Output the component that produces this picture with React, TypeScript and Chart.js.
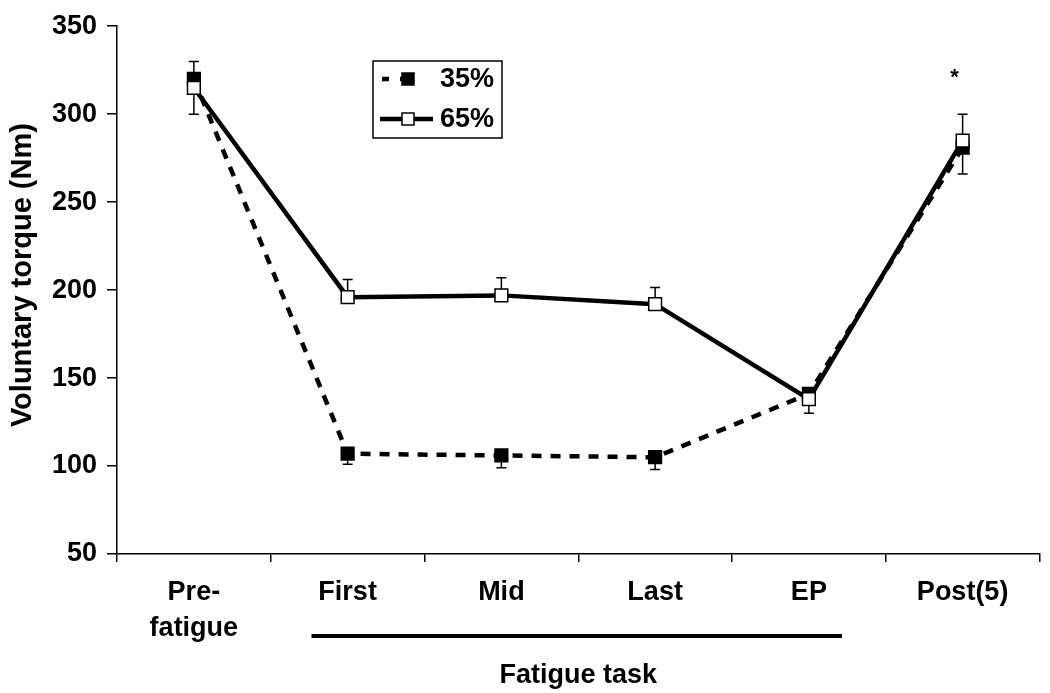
import React, { useEffect, useRef } from "react";
import { Chart, registerables } from "chart.js";

Chart.register(...registerables);

// ---- data ----
const categories: (string | string[])[] = [["Pre-", "fatigue"], "First", "Mid", "Last", "EP", "Post(5)"];
const series35 = [320, 107, 106, 105, 141, 281];
const series35ErrDown = [20, 6, 7, 7, 11, 15];
const series65 = [315, 196, 197, 192, 138, 285];
const series65ErrUp = [15, 10, 10, 9.5, 3, 15];
const seriesNames = ["35%", "65%"];
const yMin = 50;
const yMax = 350;
const yStep = 50;
const yTitle = "Voluntary torque (Nm)";
const xTitle = "Fatigue task";
const fatigueTaskRange = [1, 4];
const significance = [{ index: 5, text: "*" }];

const FONT = "'Liberation Sans', Arial, Helvetica, sans-serif";

const errorBarPlugin = {
  id: "errorBars",
  beforeDatasetsDraw(chart: any) {
    const ctx = chart.ctx;
    const y = chart.scales.y;
    chart.data.datasets.forEach((ds: any, di: number) => {
      const meta = chart.getDatasetMeta(di);
      ds.data.forEach((v: number, i: number) => {
        const pt = meta.data[i];
        if (!pt) return;
        const x = pt.x;
        const y0 = y.getPixelForValue(v);
        const up = ds.errUp ? ds.errUp[i] : 0;
        const dn = ds.errDown ? ds.errDown[i] : 0;
        ctx.save();
        ctx.strokeStyle = "#000";
        ctx.lineWidth = 1.5;
        const ends: number[] = [];
        if (up) ends.push(y.getPixelForValue(v + up));
        if (dn) ends.push(y.getPixelForValue(v - dn));
        ends.forEach((ye) => {
          ctx.beginPath();
          ctx.moveTo(x, y0);
          ctx.lineTo(x, ye);
          ctx.moveTo(x - 5, ye);
          ctx.lineTo(x + 5, ye);
          ctx.stroke();
        });
        ctx.restore();
      });
    });
  },
};

const extrasPlugin = {
  id: "extras",
  afterDraw(chart: any) {
    const ctx = chart.ctx;
    const xs = chart.scales.x;
    const ys = chart.scales.y;
    const cw = xs.getPixelForValue(1) - xs.getPixelForValue(0);
    // fatigue task bracket line
    ctx.save();
    ctx.strokeStyle = "#000";
    ctx.lineWidth = 4;
    ctx.beginPath();
    const lx0 = xs.getPixelForValue(fatigueTaskRange[0]) - cw * 0.235;
    const lx1 = xs.getPixelForValue(fatigueTaskRange[1]) + cw * 0.215;
    ctx.moveTo(lx0, 636);
    ctx.lineTo(lx1, 636);
    ctx.stroke();
    ctx.restore();

    // y title
    ctx.save();
    ctx.fillStyle = "#000";
    ctx.font = `bold 29px ${FONT}`;
    ctx.textAlign = "center";
    ctx.textBaseline = "middle";
    ctx.translate(23, (chart.chartArea.top + chart.chartArea.bottom) / 2 - 15);
    ctx.rotate(-Math.PI / 2);
    ctx.fillText(yTitle, 0, 0);
    ctx.restore();

    // significance
    significance.forEach((s) => {
      const x = xs.getPixelForValue(s.index) - 8;
      const top = ys.getPixelForValue(series65[s.index] + series65ErrUp[s.index]);
      ctx.save();
      ctx.fillStyle = "#000";
      ctx.font = `bold 22px ${FONT}`;
      ctx.textAlign = "center";
      ctx.textBaseline = "alphabetic";
      ctx.fillText(s.text, x, top - 30);
      ctx.restore();
    });

    // legend
    ctx.save();
    ctx.strokeStyle = "#000";
    ctx.lineWidth = 1.5;
    ctx.strokeRect(373, 61, 129, 77);
    const rows = [79, 119];
    chart.data.datasets.forEach((ds: any, di: number) => {
      const ry = rows[di];
      ctx.save();
      ctx.strokeStyle = "#000";
      ctx.lineWidth = 4.5;
      if (di === 0) {
        ctx.setLineDash([7, 11]);
        ctx.beginPath();
        ctx.moveTo(382, ry);
        ctx.lineTo(418, ry);
        ctx.stroke();
      } else {
        ctx.beginPath();
        ctx.moveTo(380, ry);
        ctx.lineTo(433, ry);
        ctx.stroke();
      }
      ctx.restore();
      const s = 12;
      ctx.fillStyle = ds.pointBackgroundColor;
      ctx.fillRect(408 - s / 2, ry - s / 2, s, s);
      ctx.lineWidth = 1.5;
      ctx.strokeStyle = "#000";
      ctx.strokeRect(408 - s / 2, ry - s / 2, s, s);
      ctx.fillStyle = "#000";
      ctx.font = `bold 27px ${FONT}`;
      ctx.textAlign = "left";
      ctx.textBaseline = "middle";
      ctx.fillText(ds.label, 440, ry + 1);
    });
    ctx.restore();
  },
};

export default function App() {
  const ref = useRef<HTMLCanvasElement | null>(null);
  useEffect(() => {
    if (!ref.current) return;
    const chart = new Chart(ref.current, {
      type: "line",
      data: {
        labels: categories as any,
        datasets: [
          {
            label: seriesNames[0],
            data: series35,
            errDown: series35ErrDown,
            borderColor: "#000",
            borderWidth: 4.5,
            borderDash: [10, 9],
            pointStyle: "rect",
            pointRadius: 9,
            pointHoverRadius: 9,
            pointBackgroundColor: "#000",
            pointBorderColor: "#000",
            pointBorderWidth: 1.5,
            tension: 0,
            order: 2,
          } as any,
          {
            label: seriesNames[1],
            data: series65,
            errUp: series65ErrUp,
            borderColor: "#000",
            borderWidth: 4.5,
            pointStyle: "rect",
            pointRadius: 9,
            pointHoverRadius: 9,
            pointBackgroundColor: "#fff",
            pointBorderColor: "#000",
            pointBorderWidth: 1.5,
            tension: 0,
            order: 1,
          } as any,
        ],
      },
      options: {
        animation: false,
        responsive: false,
        events: [],
        layout: { padding: { top: 24, right: 9, left: 0, bottom: 0 } },
        plugins: {
          legend: { display: false },
          tooltip: { enabled: false },
        },
        scales: {
          x: {
            type: "category",
            offset: true,
            grid: {
              display: true,
              drawOnChartArea: false,
              drawTicks: true,
              tickLength: 8,
              offset: true,
              color: "#000",
              lineWidth: 1.5,
            },
            border: { display: true, color: "#000", width: 1.5 },
            ticks: {
              color: "#000",
              padding: 13,
              maxRotation: 0,
              autoSkip: false,
              font: { family: FONT, size: 27, weight: "bold", lineHeight: 1.333 },
            },
            title: {
              display: true,
              text: xTitle,
              color: "#000",
              padding: { top: 0, bottom: 1 },
              font: { family: FONT, size: 27, weight: "bold", lineHeight: 1.2 },
            },
            afterFit(scale: any) {
              scale.height = 139;
            },
          },
          y: {
            min: yMin,
            max: yMax,
            ticks: {
              stepSize: yStep,
              color: "#000",
              padding: 10,
              font: { family: FONT, size: 27, weight: "bold" },
            },
            grid: {
              display: true,
              drawOnChartArea: false,
              drawTicks: true,
              tickLength: 10,
              color: "#000",
              lineWidth: 1.5,
            },
            border: { display: true, color: "#000", width: 1.5 },
            title: { display: false },
            afterFit(scale: any) {
              scale.width = 117;
            },
          },
        },
      },
      plugins: [errorBarPlugin, extrasPlugin],
    } as any);
    return () => chart.destroy();
  }, []);
  return (
    <canvas
      ref={ref}
      width={1050}
      height={693}
      style={{ position: "absolute", left: 0, top: 0, width: 1050, height: 693 }}
    />
  );
}
